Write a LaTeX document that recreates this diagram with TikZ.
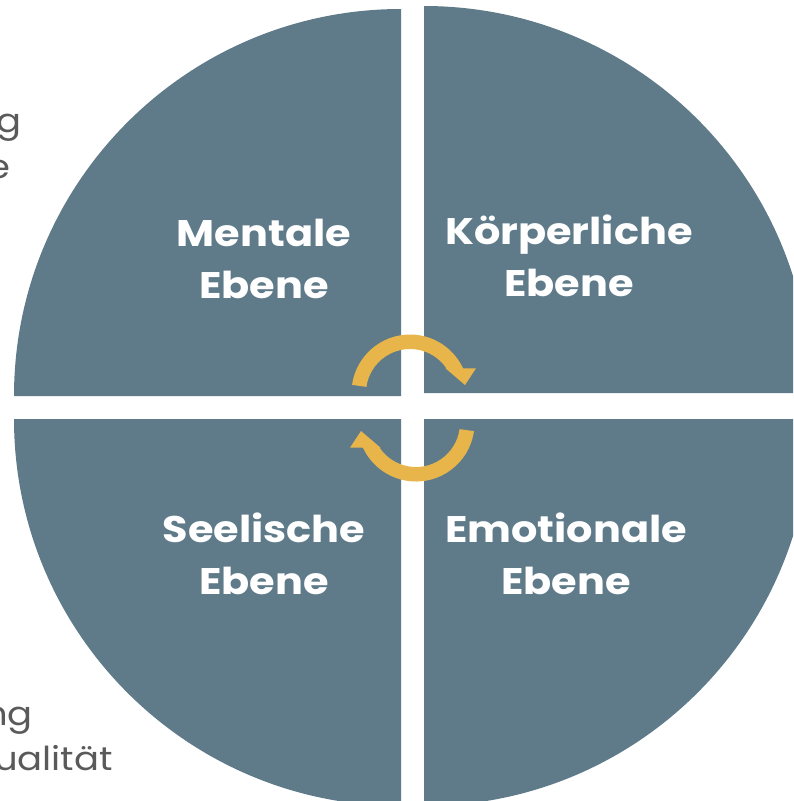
\documentclass[tikz,border=0pt]{standalone}
\usepackage{fontspec}
\setmainfont{Poppins}
\newfontfamily\widefont[FakeStretch=1.12]{Poppins}
\definecolor{slate}{HTML}{5F7B89}
\definecolor{gold}{HTML}{E8B54B}
\definecolor{side}{HTML}{5A5A5A}
\begin{document}
\begin{tikzpicture}[x=1pt,y=1pt,
  quarter/.style={fill=slate},
  turn/.style={fill=gold},
  level/.style={white,font=\widefont\fontsize{37}{52}\selectfont\bfseries,align=center,anchor=base,inner sep=0pt},
  aside/.style={side,font=\widefont\fontsize{33}{46}\selectfont,anchor=base east,inner sep=0pt}]
\clip (0,0) rectangle (793,-801);

% four quarters, pulled apart a little
\fill[quarter] (401,-396) -- ++(-387,0) arc[start angle=180,end angle=90,radius=387] -- cycle;
\fill[quarter] (424,-393) -- ++(0,387) arc[start angle=90,end angle=0,radius=387] -- cycle;
\fill[quarter] (401,-419) -- ++(-387,0) arc[start angle=180,end angle=270,radius=387] -- cycle;
\fill[quarter] (424,-419) -- ++(387,0) arc[start angle=0,end angle=-90,radius=387] -- cycle;

% base sits on the second line
\node[level] (mental) at (264,-298) {Mentale\\Ebene};
\node[level] (body) at (569,-296) {Körperliche\\Ebene};
\node[level] (soul) at (264,-594) {Seelische\\Ebene};
\node[level] (feel) at (566,-594) {Emotionale\\Ebene};

% the two turning arrows in the middle
\foreach \cx/\cy/\rot in {410/-393/0, 416/-423/180}{
  \begin{scope}[shift={(\cx,\cy)},rotate=\rot]
    \fill[turn] (172:58.5) arc[start angle=172,end angle=25,radius=58.5]
      -- (66,24.7) -- (55,8) -- (35.5,24.7) -- (34.2:44)
      arc[start angle=34.2,end angle=172,radius=44] -- cycle;
  \end{scope}
}

% text running off the left side
\node[aside] (topA) at (22,-132) {g};
\node[aside] (topB) at (11,-178) {e};
\node[aside] (lowA) at (33,-725) {ng};
\node[aside] (lowB) at (113,-770) {ualität};

\end{tikzpicture}
\end{document}
